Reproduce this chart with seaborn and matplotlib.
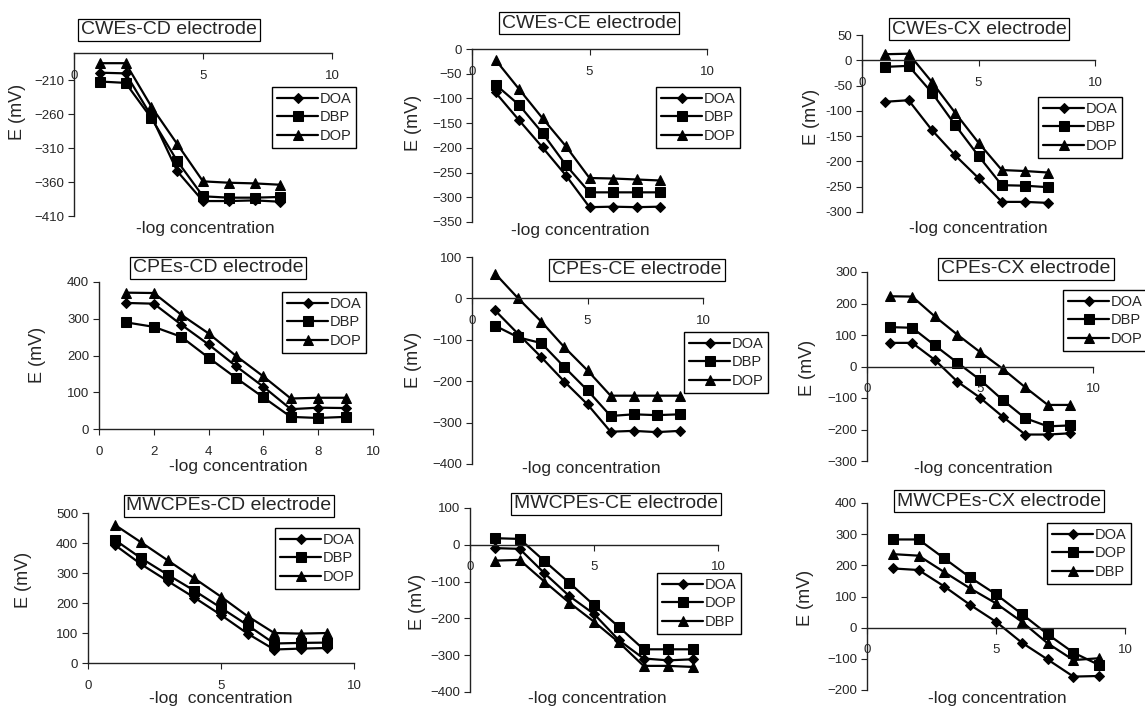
import matplotlib
matplotlib.use("Agg")
import matplotlib.pyplot as plt
import matplotlib.ticker as mticker
import numpy as np
import pandas as pd
import seaborn as sns

# ── Data (E in mV vs -log concentration) ─────────────────────────────────────
CONC_8 = [1, 2, 3, 4, 5, 6, 7, 8]
CONC_9 = [1, 2, 3, 4, 5, 6, 7, 8, 9]

CWE_CD_DOA = [-199, -200, -263, -344, -388, -388, -387, -389]
CWE_CD_DBP = [-212, -214, -266, -329, -381, -383, -383, -382]
CWE_CD_DOP = [-185, -185, -249, -304, -359, -361, -362, -364]

CWE_CE_DOA = [-88, -144, -199, -256, -320, -319, -320, -319]
CWE_CE_DBP = [-72, -113, -170, -235, -290, -290, -290, -290]
CWE_CE_DOP = [-22, -81, -140, -197, -261, -262, -264, -266]

CWE_CX_DOA = [-82, -79, -138, -188, -233, -280, -280, -282]
CWE_CX_DBP = [-13, -11, -64, -128, -189, -247, -248, -251]
CWE_CX_DOP = [12, 13, -43, -104, -163, -217, -219, -222]

CPE_CD_DOA = [343, 341, 284, 230, 171, 115, 54, 58, 57]
CPE_CD_DBP = [290, 278, 251, 194, 139, 86, 33, 30, 33]
CPE_CD_DOP = [371, 370, 311, 260, 199, 143, 83, 85, 85]

CPE_CE_DOA = [-29, -86, -142, -201, -256, -322, -320, -323, -320]
CPE_CE_DBP = [-66, -94, -108, -166, -222, -284, -280, -282, -280]
CPE_CE_DOP = [60, 0, -56, -118, -174, -235, -235, -235, -235]

CPE_CX_DOA = [75, 75, 21, -48, -99, -159, -216, -216, -212]
CPE_CX_DBP = [125, 123, 67, 12, -42, -106, -164, -190, -187]
CPE_CX_DOP = [223, 222, 159, 101, 46, -7, -66, -122, -122]

MWC_CD_DOA = [394, 329, 273, 218, 160, 98, 45, 48, 50]
MWC_CD_DBP = [411, 349, 294, 241, 184, 126, 65, 67, 68]
MWC_CD_DOP = [461, 402, 342, 282, 221, 156, 100, 98, 100]

MWC_CE_DOA = [-9, -11, -77, -139, -188, -259, -309, -314, -311]
MWC_CE_DOP = [18, 16, -44, -103, -164, -223, -284, -284, -284]
MWC_CE_DBP = [-43, -41, -100, -157, -209, -265, -329, -329, -332]

MWC_CX_DOA = [190, 185, 132, 73, 19, -48, -102, -157, -155]
MWC_CX_DOP = [283, 283, 222, 161, 107, 44, -21, -80, -120]
MWC_CX_DBP = [236, 231, 178, 126, 78, 19, -50, -104, -98]

LABELS_A = ["DOA", "DBP", "DOP"]
LABELS_B = ["DOA", "DOP", "DBP"]

# ── Layout (pixel positions in the 1145x707 canvas) ──────────────────────────
W, H = 1145, 707
MARKERS = ["D", "s", "^"]
MSIZE = {"D": 4.6, "s": 7.5, "^": 7.0}

PANELS = [
    dict(title="CWEs-CD electrode", x=CONC_8, ys=[CWE_CD_DOA, CWE_CD_DBP, CWE_CD_DOP], names=LABELS_A,
         box=(74, 332, 53, 216), ylim=(-410, -170), ystep=50, xstep=5, cross=-170,
         tbox=(169, 30), leg=(272, 87), ylab=(17, 112), xlab=(205, 229), xlabel="-log concentration"),
    dict(title="CWEs-CE electrode", x=CONC_8, ys=[CWE_CE_DOA, CWE_CE_DBP, CWE_CE_DOP], names=LABELS_A,
         box=(472, 707, 49, 222), ylim=(-350, 0), ystep=50, xstep=5, cross=0,
         tbox=(589, 23), leg=(656, 87), ylab=(413, 123), xlab=(580, 230), xlabel="-log concentration"),
    dict(title="CWEs-CX electrode", x=CONC_8, ys=[CWE_CX_DOA, CWE_CX_DBP, CWE_CX_DOP], names=LABELS_A,
         box=(862, 1095, 35, 212), ylim=(-300, 50), ystep=50, xstep=5, cross=0, hyphen=True,
         tbox=(979, 29), leg=(1038, 97), ylab=(812, 117), xlab=(978, 228), xlabel="-log concentration"),
    dict(title="CPEs-CD electrode", x=CONC_9, ys=[CPE_CD_DOA, CPE_CD_DBP, CPE_CD_DOP], names=LABELS_A,
         box=(99, 373, 282, 429), ylim=(0, 400), ystep=100, xstep=2, cross=0,
         tbox=(218, 268), leg=(282, 292), ylab=(37, 355), xlab=(238, 467), xlabel="-log concentration"),
    dict(title="CPEs-CE electrode", x=CONC_9, ys=[CPE_CE_DOA, CPE_CE_DBP, CPE_CE_DOP], names=LABELS_A,
         box=(472, 703, 257, 464), ylim=(-400, 100), ystep=100, xstep=5, cross=0,
         tbox=(637, 270), leg=(684, 332), ylab=(413, 360), xlab=(591, 468), xlabel="-log concentration"),
    dict(title="CPEs-CX electrode", x=CONC_9, ys=[CPE_CX_DOA, CPE_CX_DBP, CPE_CX_DOP], names=LABELS_A,
         box=(867, 1093, 272, 461), ylim=(-300, 300), ystep=100, xstep=5, cross=0,
         tbox=(1026, 269), leg=(1063, 290), ylab=(807, 368), xlab=(983, 468), xlabel="-log concentration"),
    dict(title="MWCPEs-CD electrode", x=CONC_9, ys=[MWC_CD_DOA, MWC_CD_DBP, MWC_CD_DOP], names=LABELS_A,
         box=(88, 354, 513, 663), ylim=(0, 500), ystep=100, xstep=5, cross=0,
         tbox=(229, 506), leg=(275, 528), ylab=(23, 580), xlab=(221, 698), xlabel="-log  concentration"),
    dict(title="MWCPEs-CE electrode", x=CONC_9, ys=[MWC_CE_DOA, MWC_CE_DOP, MWC_CE_DBP], names=LABELS_B,
         box=(470, 718, 508, 692), ylim=(-400, 100), ystep=100, xstep=5, cross=0,
         tbox=(616, 504), leg=(657, 573), ylab=(418, 602), xlab=(597, 698), xlabel="-log concentration"),
    dict(title="MWCPEs-CX electrode", x=CONC_9, ys=[MWC_CX_DOA, MWC_CX_DOP, MWC_CX_DBP], names=LABELS_B,
         box=(867, 1125, 503, 690), ylim=(-200, 400), ystep=100, xstep=5, cross=0,
         tbox=(999, 501), leg=(1047, 523), ylab=(805, 598), xlab=(997, 698), xlabel="-log concentration"),
]


def fx(px):
    return px / W


def fy(py):
    return 1 - py / H


sns.set_style("ticks")
plt.rcParams["font.family"] = ["Liberation Sans", "DejaVu Sans"]

fig = plt.figure(figsize=(W / 100, H / 100), dpi=100)

for p in PANELS:
    left, right, top, bottom = p["box"]
    ax = fig.add_axes([fx(left), fy(bottom), (right - left) / W, (bottom - top) / H])
    ax.set_facecolor("none")

    names = p["names"]
    df = pd.DataFrame({
        "conc": np.tile(p["x"], 3),
        "E": np.concatenate(p["ys"]),
        "series": np.repeat(names, len(p["x"])),
    })
    sns.lineplot(data=df, x="conc", y="E", hue="series", style="series",
                 hue_order=names, style_order=names, markers=MARKERS, dashes=False,
                 palette=["black"] * 3, linewidth=1.6, markeredgecolor="black",
                 estimator=None, sort=False, legend=False, ax=ax)
    for line in ax.lines:
        line.set_markersize(MSIZE[line.get_marker()])

    ax.set_xlim(0, 10)
    ax.set_ylim(*p["ylim"])
    ax.xaxis.set_major_locator(mticker.MultipleLocator(p["xstep"]))
    ax.set_yticks(np.arange(p["ylim"][0], p["ylim"][1] + 1, p["ystep"]))
    if p.get("hyphen"):
        ax.yaxis.set_major_formatter(mticker.FuncFormatter(lambda v, _: f"{int(v)}"))

    for s in ("top", "right"):
        ax.spines[s].set_visible(False)
    ax.spines["bottom"].set_position(("data", p["cross"]))
    for s in ("left", "bottom"):
        ax.spines[s].set_color("#222222")
        ax.spines[s].set_linewidth(1.0)
    ax.tick_params(axis="x", direction="out", length=4, pad=8, labelsize=9.5, color="#222222")
    ax.tick_params(axis="y", direction="out", length=4, pad=3, labelsize=9.5, color="#222222")

    ax.set_xlabel(p["xlabel"], fontsize=12.5)
    ax.set_ylabel("E (mV)", fontsize=13)
    ax.xaxis.set_label_coords(fx(p["xlab"][0]), fy(p["xlab"][1]), transform=fig.transFigure)
    ax.yaxis.set_label_coords(fx(p["ylab"][0]), fy(p["ylab"][1]), transform=fig.transFigure)
    ax.xaxis.label.set_va("center")
    ax.yaxis.label.set_va("center")

    leg = ax.legend(ax.lines[:3], names, loc="upper left",
                    bbox_to_anchor=(fx(p["leg"][0]), fy(p["leg"][1])),
                    bbox_transform=fig.transFigure, frameon=True, fancybox=False,
                    edgecolor="black", framealpha=1, borderaxespad=0,
                    handlelength=2.8, handletextpad=0.1, borderpad=0.35,
                    labelspacing=0.3, fontsize=10.5)
    leg.get_frame().set_linewidth(1.0)

    fig.text(fx(p["tbox"][0]), fy(p["tbox"][1]), p["title"], ha="center", va="center",
             fontsize=14,
             bbox=dict(boxstyle="square,pad=0.15", fc="white", ec="black", lw=0.9))

fig.savefig("out.png", dpi=100)
